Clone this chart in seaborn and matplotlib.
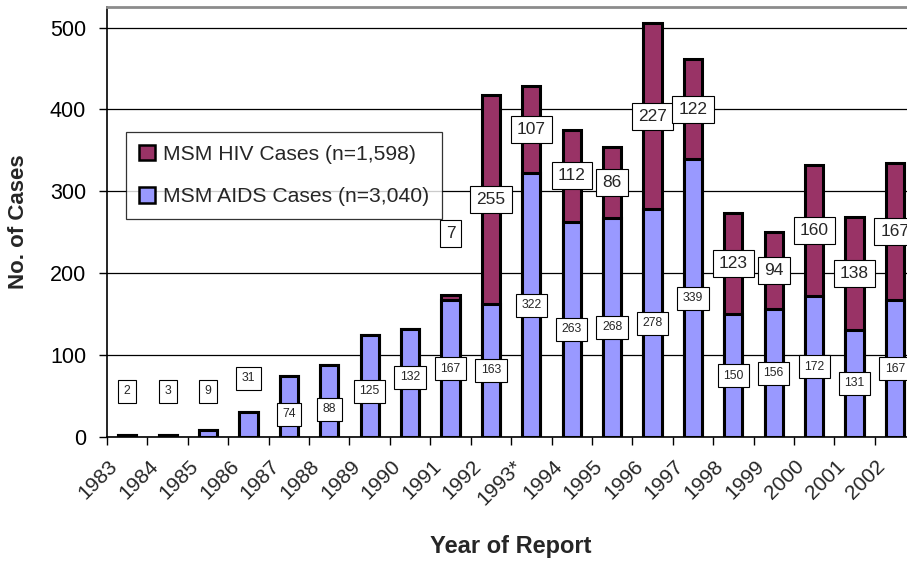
import matplotlib
matplotlib.use("Agg")
import matplotlib.pyplot as plt
import matplotlib.transforms as mtransforms
from matplotlib.patches import Patch
import seaborn as sns
import pandas as pd
import numpy as np

# data
years = ["1983", "1984", "1985", "1986", "1987", "1988", "1989", "1990", "1991", "1992",
         "1993*", "1994", "1995", "1996", "1997", "1998", "1999", "2000", "2001", "2002"]
aids_cases = [2, 3, 9, 31, 74, 88, 125, 132, 167, 163,
              322, 263, 268, 278, 339, 150, 156, 172, 131, 167]
hiv_cases = [0, 0, 0, 0, 0, 0, 0, 0, 7, 255,
             107, 112, 86, 227, 122, 123, 94, 160, 138, 167]
legend_labels = ["MSM HIV Cases (n=1,598)", "MSM AIDS Cases (n=3,040)"]

# hand-placed labels in the original (index -> height in data units)
aids_label_moves = {0: 56, 1: 56, 2: 56, 3: 72, 4: 28, 5: 34, 6: 56, 7: 73}
hiv_label_moves = {8: 249}

AIDS_COLOR = "#9999FF"
HIV_COLOR = "#993366"


def main():
    sns.set_theme(style="white")
    plt.rcParams["font.family"] = ["Liberation Sans", "DejaVu Sans"]

    df = pd.DataFrame({"year": years, "aids": aids_cases, "hiv": hiv_cases})
    df["total"] = df["aids"] + df["hiv"]

    fig = plt.figure(figsize=(9.07, 5.62), dpi=100)
    ax = fig.add_axes([0.118, 0.2224, 0.891, 0.765])

    # stacked bars: full height in HIV colour, AIDS part drawn over it
    sns.barplot(data=df, x="year", y="total", color=HIV_COLOR, saturation=1,
                width=0.45, edgecolor="black", linewidth=2.2, ax=ax, zorder=2)
    sns.barplot(data=df, x="year", y="aids", color=AIDS_COLOR, saturation=1,
                width=0.45, edgecolor="black", linewidth=2.2, ax=ax, zorder=3)

    box_small = dict(boxstyle="square,pad=0.45", fc="white", ec="black", lw=0.8)
    box_big = dict(boxstyle="square,pad=0.35", fc="white", ec="black", lw=0.8)

    for i, row in df.iterrows():
        y = aids_label_moves.get(i, row["aids"] / 2)
        ax.text(i, y, str(row["aids"]), ha="center", va="center", fontsize=8.8,
                bbox=box_small, zorder=5)
        if row["hiv"] > 0:
            y = hiv_label_moves.get(i, row["aids"] + row["hiv"] / 2)
            ax.text(i, y, str(row["hiv"]), ha="center", va="center", fontsize=12.5,
                    bbox=box_big, zorder=5)

    ax.set_xlim(-0.5, len(years) - 0.5)
    ax.set_ylim(0, 525)
    ax.set_yticks([0, 100, 200, 300, 400, 500])
    ax.yaxis.grid(True, color="black", linewidth=0.9)
    ax.set_axisbelow(True)

    ax.spines["right"].set_visible(False)
    ax.spines["top"].set_color("#8c8c8c")
    ax.spines["top"].set_linewidth(2)
    ax.spines["left"].set_color("black")
    ax.spines["left"].set_linewidth(1.2)
    ax.spines["bottom"].set_color("black")
    ax.spines["bottom"].set_linewidth(1.2)

    ax.tick_params(axis="y", direction="out", length=6, width=1, colors="black",
                   labelsize=15.5, pad=9, left=True)
    ax.set_xticks(np.arange(-0.5, len(years), 1), minor=True)
    ax.tick_params(axis="x", which="minor", direction="out", length=6, width=1,
                   bottom=True, color="black")
    ax.tick_params(axis="x", which="major", length=0, labelsize=15, pad=19)
    ax.set_xticks(range(len(years)))
    ax.set_xticklabels(years, rotation=45, ha="right", va="center",
                       rotation_mode="anchor")
    shift = mtransforms.ScaledTranslation(-9 / 72, 0, fig.dpi_scale_trans)
    for lab in ax.get_xticklabels():
        lab.set_transform(lab.get_transform() + shift)

    ax.set_xlabel("Year of Report", fontsize=17, fontweight="bold")
    ax.set_ylabel("No. of Cases", fontsize=16, fontweight="bold")
    ax.xaxis.set_label_coords(0.5, -0.228)
    ax.yaxis.set_label_coords(-0.097, 0.5)

    handles = [Patch(facecolor=HIV_COLOR, edgecolor="black", linewidth=1.8),
               Patch(facecolor=AIDS_COLOR, edgecolor="black", linewidth=1.8)]
    leg = ax.legend(handles, legend_labels, loc="upper left",
                    bbox_to_anchor=(0.0235, 0.709), borderaxespad=0,
                    fontsize=15.2, frameon=True, fancybox=False,
                    handlelength=0.75, handleheight=0.75, handletextpad=0.4,
                    labelspacing=1.1, borderpad=0.6)
    leg.get_frame().set_edgecolor("black")
    leg.get_frame().set_linewidth(0.9)
    leg.set_zorder(6)

    plt.savefig("out.png", dpi=100)


if __name__ == "__main__":
    main()
